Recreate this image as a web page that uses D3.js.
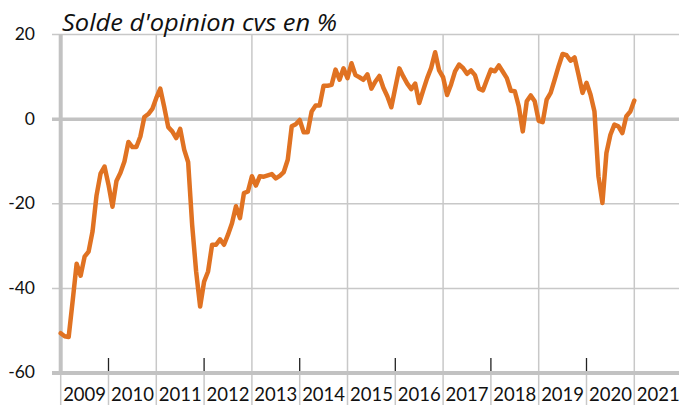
<!DOCTYPE html>
<html>
<head>
<meta charset="utf-8">
<script src="https://cdn.jsdelivr.net/npm/d3@7"></script>
<style>
  body { margin: 0; background: #fff; }
  svg { display: block; font-family: Lato, 'Open Sans', sans-serif; }
</style>
</head>
<body>
<div id="chart"></div>
<script>
const title = "Solde d'opinion cvs en %";
const yearLabels = [2009, 2010, 2011, 2012, 2013, 2014, 2015, 2016, 2017, 2018, 2019, 2020, 2021];
const gridYears = [2011, 2013, 2015, 2017, 2019, 2021];
const tickYears = [2010, 2012, 2014, 2016, 2018, 2020];
const yTicks = [-60, -40, -20, 0, 20];
const firstYear = 2009; // monthly values, Jan 2009 -> Jan 2021
const values = [
  -50.6, -51.3, -51.5, -43, -34.2, -37, -32.5, -31.3, -26.5, -18, -12.9, -11.2,
  -15.5, -20.7, -14.6, -12.7, -10.0, -5.4, -6.6, -6.6, -4.1, 0.5, 1.2, 2.4,
  5.0, 7.2, 2.8, -1.9, -2.9, -4.5, -2.3, -7.2, -10.2, -25, -36, -44.3,
  -38.4, -36.0, -29.7, -29.7, -28.4, -29.7, -27.3, -24.6, -20.6, -23.4, -17.5, -17.1,
  -13.5, -15.7, -13.5, -13.6, -13.3, -13.0, -14.0, -13.4, -12.5, -9.6, -1.7, -1.2,
  -0.2, -3.1, -3.1, 1.8, 3.2, 3.2, 7.9, 7.9, 8.1, 11.7, 9.3, 12.0,
  9.7, 13.2, 10.4, 9.9, 9.3, 10.6, 7.2, 8.9, 10.2, 7.4, 5.4, 2.8,
  7.4, 12.0, 10.1, 8.4, 7.1, 8.4, 3.8, 6.8, 9.7, 12.1, 15.8, 11.5,
  9.9, 5.7, 8.2, 11.3, 12.9, 12.1, 10.7, 11.5, 10.4, 7.2, 6.8, 9.3,
  11.7, 11.3, 12.7, 11.2, 9.7, 6.7, 6.6, 3.0, -2.9, 4.2, 5.6, 4.2,
  -0.4, -0.7, 4.6, 6.2, 9.3, 12.5, 15.4, 15.1, 13.8, 14.6, 10.5, 6.2,
  8.6, 5.8, 1.8, -13.5, -19.8, -8.0, -3.7, -1.3, -1.7, -3.3, 0.7, 1.8,
  4.4
];

const width = 679, height = 405;
const gridColor = '#c8c8c8';
const axisColor = '#c2c2c2';

const svg = d3.select('#chart').append('svg')
  .attr('width', width)
  .attr('height', height);

const x = d3.scaleLinear().domain([2009, 2022]).range([60.7, 682.1]);
const y = d3.scaleLinear().domain([-60, 20]).range([373, 34.5]);

// horizontal grid
svg.append('g')
  .selectAll('line')
  .data(yTicks.filter(d => d !== -60))
  .enter()
  .append('line')
  .attr('x1', 52)
  .attr('x2', width)
  .attr('y1', d => y(d))
  .attr('y2', d => y(d))
  .attr('stroke', d => d === 0 ? axisColor : gridColor)
  .attr('stroke-width', d => d === 0 ? 3.5 : 1.5);

// vertical grid (runs down through the label band)
svg.append('g')
  .selectAll('line')
  .data(gridYears)
  .enter()
  .append('line')
  .attr('x1', d => x(d))
  .attr('x2', d => x(d))
  .attr('y1', y(20))
  .attr('y2', height)
  .attr('stroke', gridColor)
  .attr('stroke-width', 1.5);

// separators between year labels
svg.append('g')
  .selectAll('line')
  .data(tickYears)
  .enter()
  .append('line')
  .attr('x1', d => x(d))
  .attr('x2', d => x(d))
  .attr('y1', y(-60))
  .attr('y2', height)
  .attr('stroke', gridColor)
  .attr('stroke-width', 1.5);

// black ticks
svg.append('g')
  .selectAll('line')
  .data(tickYears)
  .enter()
  .append('line')
  .attr('x1', d => x(d))
  .attr('x2', d => x(d))
  .attr('y1', y(-60) - 15)
  .attr('y2', y(-60))
  .attr('stroke', '#222')
  .attr('stroke-width', 1.3);

// axes
svg.append('line')
  .attr('x1', x(2009)).attr('x2', x(2009))
  .attr('y1', y(20)).attr('y2', y(-60) + 2)
  .attr('stroke', axisColor)
  .attr('stroke-width', 4);

svg.append('line')
  .attr('x1', x(2009)).attr('x2', x(2009))
  .attr('y1', y(-60)).attr('y2', height)
  .attr('stroke', gridColor)
  .attr('stroke-width', 1.5);

svg.append('line')
  .attr('x1', 52).attr('x2', width)
  .attr('y1', y(-60)).attr('y2', y(-60))
  .attr('stroke', axisColor)
  .attr('stroke-width', 4);

// y labels
svg.append('g')
  .selectAll('text')
  .data(yTicks)
  .enter()
  .append('text')
  .attr('x', 35)
  .attr('y', d => y(d) + 1)
  .attr('text-anchor', 'end')
  .attr('dominant-baseline', 'middle')
  .attr('font-size', '17.5px')
  .attr('fill', '#111')
  .text(d => d);

// x labels, centred in each year
svg.append('g')
  .selectAll('text')
  .data(yearLabels)
  .enter()
  .append('text')
  .attr('x', d => x(d + 0.5))
  .attr('y', 401)
  .attr('text-anchor', 'middle')
  .attr('font-size', '18.5px')
  .attr('fill', '#111')
  .text(d => d);

// title
svg.append('text')
  .attr('x', 62)
  .attr('y', 31)
  .attr('font-family', "'Open Sans', Lato, sans-serif")
  .attr('font-size', '24px')
  .attr('font-style', 'italic')
  .attr('textLength', 275)
  .attr('lengthAdjust', 'spacingAndGlyphs')
  .attr('fill', '#111')
  .text(title);

// series
const line = d3.line()
  .x((d, i) => x(firstYear + i / 12))
  .y(d => y(d));

svg.append('path')
  .datum(values)
  .attr('d', line)
  .attr('fill', 'none')
  .attr('stroke', '#e07222')
  .attr('stroke-width', 4.5)
  .attr('stroke-linejoin', 'round')
  .attr('stroke-linecap', 'round');
</script>
</body>
</html>
